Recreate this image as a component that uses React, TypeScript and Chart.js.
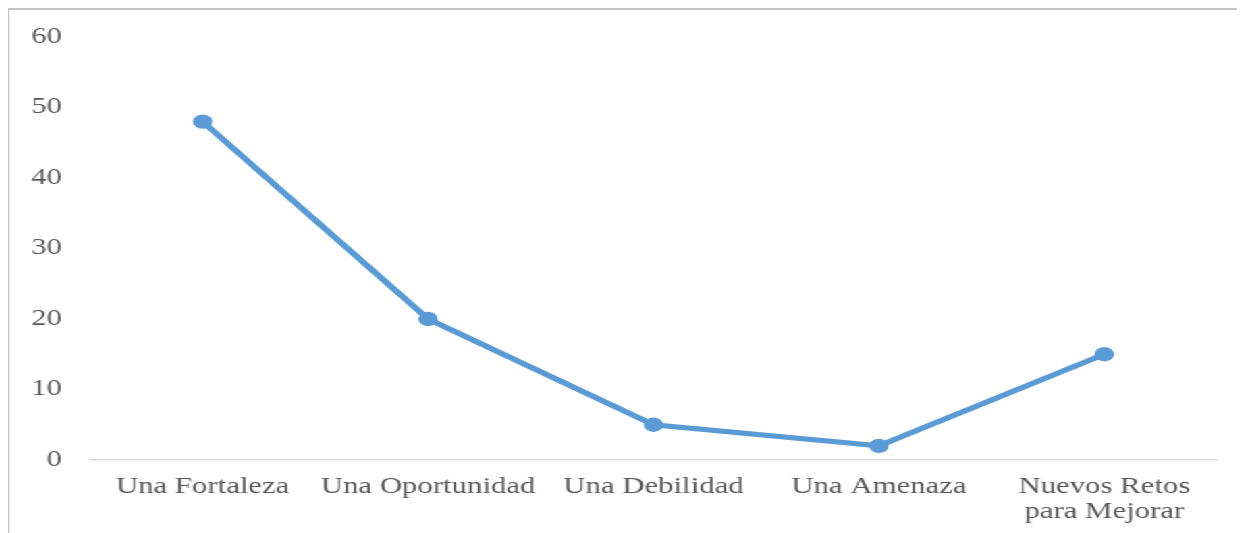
import React, { useEffect, useRef } from "react";
import { Chart, registerables } from "chart.js";

Chart.register(...registerables);

const categories: (string | string[])[] = [
  "Una Fortaleza",
  "Una Oportunidad",
  "Una Debilidad",
  "Una Amenaza",
  ["Nuevos Retos", "para Mejorar"],
];
const seriesValues: number[] = [48, 20, 5, 2, 15];
const yTicks = { min: 0, max: 60, step: 10 };

const STRETCH = 1.35;
const BOX_W = 916;
const BOX_H = 525;

export default function App() {
  const canvasRef = useRef<HTMLCanvasElement | null>(null);

  useEffect(() => {
    document.body.style.overflow = "hidden";
    const canvas = canvasRef.current;
    if (!canvas) return;
    const font = {
      family: "'Liberation Serif', 'Times New Roman', serif",
      size: 22.8,
      lineHeight: 1.1,
    };
    const chart = new Chart(canvas, {
      type: "line",
      data: {
        labels: categories,
        datasets: [
          {
            data: seriesValues,
            borderColor: "#5B9BD5",
            backgroundColor: "#5B9BD5",
            borderWidth: 5.2,
            pointRadius: 7.2,
            pointBackgroundColor: "#5B9BD5",
            pointBorderWidth: 0,
            tension: 0,
            fill: false,
          },
        ],
      },
      options: {
        animation: false,
        responsive: true,
        maintainAspectRatio: false,
        layout: { padding: { top: 27, right: 20.4, left: 0, bottom: 0 } },
        plugins: {
          legend: { display: false },
          tooltip: { enabled: false },
        },
        scales: {
          x: {
            offset: true,
            grid: { display: false, drawTicks: false },
            border: { display: true, color: "#d9d9d9", width: 1.5 },
            ticks: {
              color: "#595959",
              font,
              padding: 14.3,
              maxRotation: 0,
              autoSkip: false,
            },
            afterFit: (scale: any) => {
              scale.height = 73;
            },
          },
          y: {
            min: yTicks.min,
            max: yTicks.max,
            grid: { display: false, drawTicks: false },
            border: { display: false },
            ticks: {
              stepSize: yTicks.step,
              color: "#595959",
              font: { ...font, lineHeight: 1.2 },
              padding: 20.7,
            },
            afterFit: (scale: any) => {
              scale.width = 59.7;
              scale.paddingTop = 0;
              scale.paddingBottom = 0;
            },
          },
        },
      },
    });
    return () => chart.destroy();
  }, []);

  return (
    <div
      style={{
        width: BOX_W,
        height: BOX_H,
        boxSizing: "border-box",
        borderTop: "2px solid #c4c4c4",
        borderLeft: "1px solid #c4c4c4",
        transform: `scaleX(${STRETCH})`,
        transformOrigin: "0 0",
        background: "#fff",
      }}
    >
      <div style={{ position: "relative", width: "100%", height: "100%" }}>
        <canvas ref={canvasRef} />
      </div>
    </div>
  );
}
